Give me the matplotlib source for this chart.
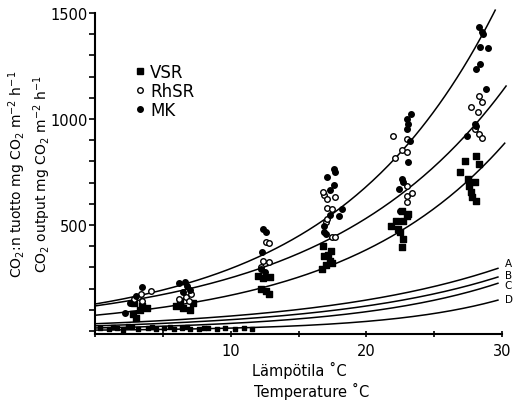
import numpy as np
import matplotlib
matplotlib.use("Agg")
import matplotlib.pyplot as plt
from matplotlib.lines import Line2D

# ---- data ----
vsr_x = [2.8, 3.0, 3.3, 3.5, 2.9, 3.8, 6.0, 6.5, 7.0, 7.2, 6.3,
         12.2, 12.6, 12.8, 12.4, 12.0, 12.9,
         16.7, 17.0, 17.3, 16.9, 17.4, 17.2, 16.8, 17.5,
         22.6, 22.7, 22.5, 22.3, 21.8, 22.7, 23.0, 23.1, 22.6, 22.2,
         27.8, 28.1, 27.7, 27.6, 27.5, 26.9, 27.3, 28.1, 28.3, 28.0]
vsr_y = [80, 60, 100, 120, 130, 110, 120, 110, 100, 130, 140,
         200, 190, 175, 250, 260, 255,
         290, 310, 330, 354, 377, 360, 400, 320,
         396, 434, 467, 481, 495, 519, 542, 552, 566, 520,
         632, 613, 656, 684, 717, 750, 802, 825, 788, 703]

rhsr_x = [4.1, 3.2, 3.5, 2.9, 3.4, 6.7, 7.1, 6.2, 6.9,
          12.6, 12.8, 12.4, 12.8, 12.2,
          16.9, 17.7, 17.1, 17.5, 17.0, 17.5, 17.7, 16.8, 17.1, 17.1,
          22.0, 23.0, 22.6, 23.0, 22.1, 23.0, 23.0, 23.4, 23.0,
          28.3, 28.5, 27.7, 28.2, 28.3, 28.5, 28.0]
rhsr_y = [187, 160, 140, 150, 175, 160, 175, 150, 140,
          420, 415, 330, 325, 300,
          642, 632, 580, 575, 514, 443, 445, 656, 623, 528,
          920, 906, 854, 844, 816, 684, 637, 650, 608,
          1108, 1080, 1057, 1033, 930, 910, 955]

mk_x = [3.5, 2.2, 3.0, 2.6, 6.2, 6.6, 6.8, 7.0, 6.5,
        12.4, 12.6, 12.3, 12.5, 12.2,
        17.6, 17.7, 17.1, 17.6, 17.3, 18.2, 17.3, 18.0, 16.9, 17.0, 16.9,
        23.3, 23.0, 23.1, 23.0, 23.2, 23.1, 22.6, 22.7, 22.4, 22.5,
        28.3, 28.5, 28.6, 28.4, 29.0, 28.4, 28.1, 28.8, 28.0, 27.4, 28.1]
mk_y = [206, 85, 165, 130, 225, 230, 210, 195, 185,
        481, 467, 373, 280, 290,
        764, 750, 726, 689, 665, 575, 547, 542, 495, 458, 467,
        1024, 1000, 976, 953, 896, 797, 717, 703, 670, 566,
        1434, 1410, 1400, 1340, 1335, 1259, 1236, 1141, 976, 920, 967]

# low measurements crowded along the axis
low_x = [0.4, 1.0, 1.6, 2.1, 2.7, 3.2, 3.9, 4.5, 5.1, 5.8, 6.4, 7.0,
         7.7, 8.3, 9.0, 9.6, 10.3, 11.0, 11.6, 1.3, 2.4, 4.2, 5.5, 6.8, 8.0]
low_y = [12, 8, 14, 6, 18, 10, 15, 7, 12, 9, 16, 11,
         8, 13, 9, 15, 10, 12, 8, 20, 22, 19, 21, 17, 14]

# fitted exponential curves  y = a * exp(b * T)
fit_a = [127, 118, 74]          # MK, RhSR, VSR
fit_b = [0.0840, 0.0753, 0.0822]
fit_end = [29.5, 30.3, 30.2]

model_labels = ["A", "B", "C", "D"]
model_a = [34, 24, 14, 4]
model_b = [0.0728, 0.0795, 0.0935, 0.121]
model_end = 29.7
label_offset = [26, 10, -6, 4]

legend_labels = ["VSR", "RhSR", "MK"]
y_ticks = [500, 1000, 1500]
x_ticks = [10, 20, 30]

# ---- figure ----
plt.rcParams['font.family'] = ['DejaVu Sans']
fig = plt.figure(figsize=(5.32, 4.02), dpi=100)
ax = fig.add_axes([95/532, 1-334.5/402, (502-95)/532, (334.5-14)/402])

lw = 1.1
for a, b, e in zip(fit_a, fit_b, fit_end):
    t = np.linspace(0, e, 200)
    ax.plot(t, a*np.exp(b*t), color='black', lw=lw, clip_on=False, zorder=2)
for lab, a, b, off in zip(model_labels, model_a, model_b, label_offset):
    t = np.linspace(0, model_end, 200)
    yv = a*np.exp(b*t)
    ax.plot(t, yv, color='black', lw=lw, clip_on=False, zorder=2)
    ax.text(model_end + 0.5, yv[-1] + off, lab, fontsize=7.5, va='center',
            ha='left', clip_on=False)

ms = 16
ax.scatter(vsr_x, vsr_y, marker='s', s=ms, color='black', zorder=3, clip_on=False)
ax.scatter(rhsr_x, rhsr_y, marker='o', s=ms, facecolors='white',
           edgecolors='black', linewidths=1.0, zorder=3, clip_on=False)
ax.scatter(mk_x, mk_y, marker='o', s=ms, color='black', zorder=3, clip_on=False)
ax.scatter(low_x, low_y, marker='s', s=6, color='black', zorder=3, clip_on=False)

handles = [Line2D([], [], ls='none', marker='s', ms=4, color='black'),
           Line2D([], [], ls='none', marker='o', ms=4, mfc='white', mec='black'),
           Line2D([], [], ls='none', marker='o', ms=4, color='black')]
ax.legend(handles, legend_labels, loc='upper left', bbox_to_anchor=(0.078, 0.87),
          frameon=False, fontsize=12, handlelength=0.6, handletextpad=0.3,
          labelspacing=0.05, borderpad=0)

ax.set_xlim(0, 30)
ax.set_ylim(-12, 1500)
for s in ['top', 'right']:
    ax.spines[s].set_visible(False)
for s in ['left', 'bottom']:
    ax.spines[s].set_linewidth(1.5)

ax.set_yticks(y_ticks)
ax.set_yticks(np.arange(0, 1501, 100), minor=True)
ax.set_xticks(x_ticks)
ax.set_xticks(np.arange(0, 31, 5), minor=True)
ax.tick_params(axis='y', which='both', direction='out', length=4, width=1.2,
               labelsize=10.5, pad=1)
ax.tick_params(axis='x', which='both', direction='inout', length=5, width=1.2,
               labelsize=10.5, pad=4)

fig.text(17/532, 1-174/402, "CO$_2$:n tuotto mg CO$_2$ m$^{-2}$ h$^{-1}$",
         rotation=90, ha='center', va='center', fontsize=10)
fig.text(42/532, 1-174/402, "CO$_2$ output mg CO$_2$ m$^{-2}$ h$^{-1}$",
         rotation=90, ha='center', va='center', fontsize=10)
fig.text(252/532, 1-370/402, "Lämpötila ˚C", ha='left', va='center', fontsize=10.5)
fig.text(254/532, 1-391/402, "Temperature ˚C", ha='left', va='center', fontsize=10.5)

fig.savefig("out.png", dpi=100)
